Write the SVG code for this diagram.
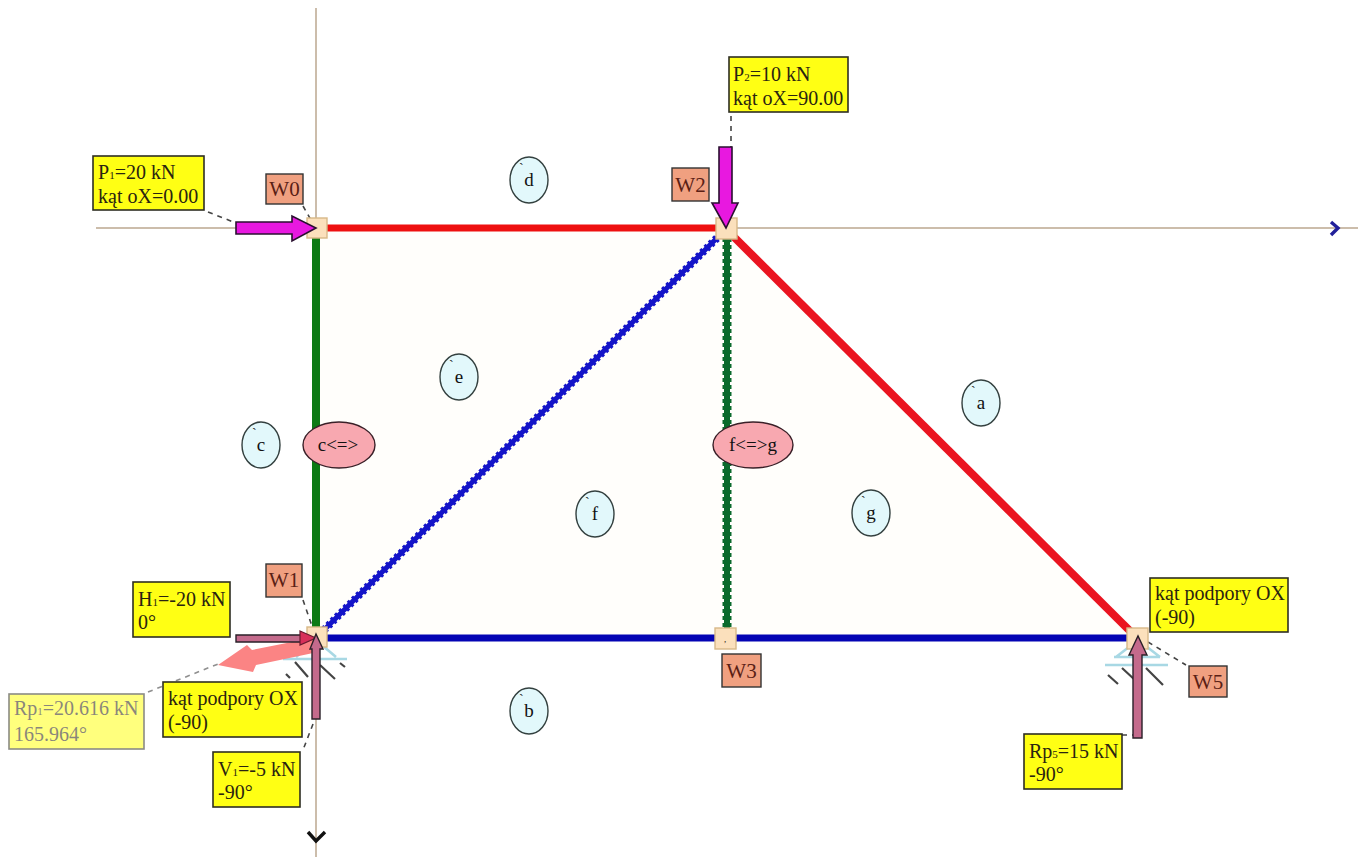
<svg xmlns="http://www.w3.org/2000/svg" width="1365" height="859" viewBox="0 0 1365 859">
<style>
text{font-family:"Liberation Serif","Times New Roman",serif;fill:#2a2410}
.lb text{font-size:20px}
.y{fill:#ffff14;stroke:#2e2e22;stroke-width:1.6}
.w{fill:#f0a080;stroke:#333;stroke-width:1.4}
.wt{font-size:21px;text-anchor:middle;fill:#5a2015}
.e{fill:#e2f8fb;stroke:#33403f;stroke-width:1.4}
.p{fill:#f8a8b0;stroke:#3a2028;stroke-width:1.4}
.et{font-size:19px;text-anchor:middle;fill:#111}
.tick{font-size:14px;fill:#222}
.n{fill:#fbe0bc;stroke:#d8b888;stroke-width:1.4}
.ax{stroke:#bba78f;stroke-width:1.5;fill:none}
.ld{stroke:#444;stroke-width:1.6;stroke-dasharray:5 5;fill:none}
.mg{fill:#e818e0;stroke:#2a1030;stroke-width:1.6}
.rs{fill:#c46a8c;stroke:#2a2028;stroke-width:1.4}
.sup{stroke:#a8d8e4;stroke-width:2.6;fill:none}
.hat{stroke:#444;stroke-width:2.2;fill:none}
.s{font-size:11px}
</style>
<polygon points="316,228 726,228 1137,637 316,637" fill="#fffefb"/>
<g id="axes">
<line class="ax" x1="96" y1="228" x2="1358" y2="228"/>
<line class="ax" x1="316" y1="8" x2="316" y2="857"/>
<path d="M1331,222L1338,228L1331,235" fill="none" stroke="#22209a" stroke-width="3.400"/>
<path d="M308,832L316,841L325,832" fill="none" stroke="#111" stroke-width="3.400"/>
</g>
<g id="connectors">
<line x1="327" y1="228" x2="716" y2="228" stroke="#ee1010" stroke-width="7"/>
<line x1="316" y1="238" x2="316" y2="627" stroke="#0c7a14" stroke-width="8"/>
<line x1="327" y1="638" x2="1127" y2="638" stroke="#0404b4" stroke-width="7"/>
<line x1="733" y1="236" x2="1130" y2="631" stroke="#ea1420" stroke-width="8"/>
<line x1="324" y1="630" x2="720" y2="235" stroke="#1414c8" stroke-width="5"/>
<line x1="324" y1="630" x2="720" y2="235" stroke="#1414c8" stroke-width="8" stroke-dasharray="3 3"/>
<line x1="727" y1="238" x2="727" y2="628" stroke="#0a6a2c" stroke-width="6"/>
<line x1="727" y1="238" x2="727" y2="628" stroke="#0a6a2c" stroke-width="9" stroke-dasharray="4 3"/>
<path class="ld" d="M208,212L236,223"/>
<path class="ld" d="M303,206L311,220"/>
<path class="ld" d="M731,116V147"/>
<path class="ld" d="M303,600L312,626"/>
<path class="ld" d="M148,692L218,664" stroke-opacity=".6"/>
<path class="ld" d="M313,724L303,750"/>
<path class="ld" d="M1148,642L1186,665"/>
<path class="ld" d="M1122,735H1133"/>
</g>
<g id="supports">
<path class="sup" d="M283,659H347M316,640L296,657M316,640L336,657"/>
<path class="hat" d="M286,674L290,678M295,662L308,677M320,665L335,679M340,663L345,667"/>
<path class="sup" d="M1105,665H1168M1114,657H1160M1138,640L1116,657M1138,640L1160,657"/>
<path class="hat" d="M1108,675L1118,684M1122,668L1135,680M1146,668L1163,685"/>
</g>
<g id="W0"><rect class="n" x="307" y="218" width="20" height="20"/><rect class="w" x="266" y="174" width="37" height="30"/><text class="wt" x="284.500" y="196">W0</text></g>
<g id="W1"><rect class="n" x="307" y="627" width="20" height="20"/><rect class="w" x="266" y="564" width="36" height="33"/><text class="wt" x="284" y="587">W1</text></g>
<g id="W2"><rect class="n" x="716" y="218" width="21" height="21"/><rect class="w" x="672" y="168" width="37" height="33"/><text class="wt" x="690.500" y="192">W2</text></g>
<g id="W3"><rect class="n" x="715" y="628" width="21" height="21"/><text x="724" y="642" style="font-size:9px">,</text><rect class="w" x="722" y="654" width="39" height="33"/><text class="wt" x="741.500" y="678">W3</text></g>
<g id="W5"><rect class="n" x="1127" y="628" width="21" height="21"/><rect class="w" x="1189" y="666" width="38" height="31"/><text class="wt" x="1208" y="689">W5</text></g>
<g id="force-P1"><path class="mg" d="M236,222H292V216L316,228L292,241V234H236Z"/></g>
<g id="force-P2"><path class="mg" d="M719,147H732V203H738L726,228L712,203H719Z"/></g>
<g id="force-R1"><path d="M218,665L247,645L252,650L312,638L318,652L256,665L253,672Z" fill="#fb8484"/></g>
<g id="force-H1"><path class="rs" d="M236,635H302V642H236Z"/><path d="M300,631L316,638L300,645Z" fill="#d8305a" stroke="#6a1a30" stroke-width="1.200"/></g>
<g id="force-V1"><path class="rs" d="M312,719V649H310L316,634L323,649H320V719Z"/></g>
<g id="force-R5"><path class="rs" d="M1133,738V655H1129L1138,636L1147,655H1142V738Z"/></g>
<g id="label-P1" class="lb"><rect class="y" x="93" y="156" width="111" height="54"/><text x="98" y="179">P<tspan class="s">1</tspan>=20 kN</text><text x="98" y="203">kąt oX=0.00</text></g>
<g id="label-P2" class="lb"><rect class="y" x="729" y="57" width="119" height="55"/><text x="733" y="81">P<tspan class="s">2</tspan>=10 kN</text><text x="733" y="105">kąt oX=90.00</text></g>
<g id="label-H1" class="lb"><rect class="y" x="133" y="582" width="97" height="55"/><text x="138" y="606">H<tspan class="s">1</tspan>=-20 kN</text><text x="138" y="629">0°</text></g>
<g id="label-R1" class="lb" opacity=".55"><rect class="y" x="9" y="694" width="135" height="55"/><text x="14" y="715">Rp<tspan class="s">1</tspan>=20.616 kN</text><text x="14" y="741">165.964°</text></g>
<g id="label-S1" class="lb"><rect class="y" x="163" y="682" width="139" height="55"/><text x="168" y="705">kąt podpory OX</text><text x="168" y="729">(-90)</text></g>
<g id="label-V1" class="lb"><rect class="y" x="213" y="752" width="87" height="55"/><text x="218" y="776">V<tspan class="s">1</tspan>=-5 kN</text><text x="218" y="799">-90°</text></g>
<g id="label-S5" class="lb"><rect class="y" x="1150" y="578" width="138" height="54"/><text x="1155" y="600">kąt podpory OX</text><text x="1155" y="624">(-90)</text></g>
<g id="label-R5" class="lb"><rect class="y" x="1024" y="734" width="98" height="55"/><text x="1029" y="758">Rp<tspan class="s">5</tspan>=15 kN</text><text x="1029" y="781">-90°</text></g>
<g id="face-d"><ellipse class="e" cx="529" cy="180" rx="19" ry="23"/><text class="tick" x="519" y="173">`</text><text class="et" x="529" y="186">d</text></g>
<g id="face-e"><ellipse class="e" cx="459" cy="377" rx="19" ry="23"/><text class="tick" x="449" y="370">`</text><text class="et" x="459" y="383">e</text></g>
<g id="face-c"><ellipse class="e" cx="261" cy="445" rx="19" ry="23"/><text class="tick" x="252" y="438">`</text><text class="et" x="261" y="451">c</text></g>
<g id="face-a"><ellipse class="e" cx="981" cy="403" rx="19" ry="23"/><text class="tick" x="971" y="396">`</text><text class="et" x="981" y="409">a</text></g>
<g id="face-f"><ellipse class="e" cx="595" cy="514" rx="19" ry="23"/><text class="tick" x="585" y="507">`</text><text class="et" x="595" y="520">f</text></g>
<g id="face-g"><ellipse class="e" cx="871" cy="513" rx="19" ry="23"/><text class="tick" x="861" y="506">`</text><text class="et" x="871" y="519">g</text></g>
<g id="face-b"><ellipse class="e" cx="529" cy="711" rx="19" ry="23"/><text class="tick" x="519" y="704">`</text><text class="et" x="529" y="717">b</text></g>
<g id="link-c"><ellipse class="p" cx="339" cy="445" rx="36" ry="23"/><text class="et" x="338" y="451">c&lt;=&gt;</text></g>
<g id="link-fg"><ellipse class="p" cx="753" cy="445" rx="40" ry="23"/><text class="et" x="753" y="451">f&lt;=&gt;g</text></g>
</svg>
